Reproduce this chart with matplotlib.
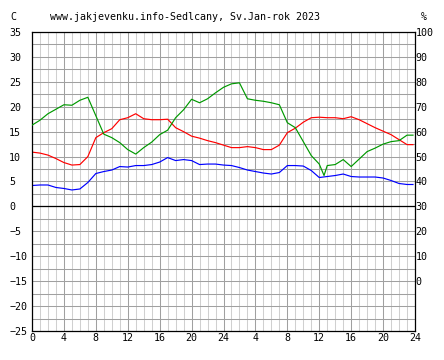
import matplotlib
matplotlib.use("Agg")
import matplotlib.pyplot as plt

# hours since start of the 48 h window
hours = list(range(48)) + [47.75]

temp_c = [10.9, 10.7, 10.3, 9.6, 8.8, 8.3, 8.4, 10.0, 13.8, 14.8,
          15.6, 17.4, 17.8, 18.6, 17.6, 17.4, 17.4, 17.5, 15.8, 15.0,
          14.1, 13.7, 13.2, 12.8, 12.3, 11.8, 11.8, 12.0, 11.8, 11.4,
          11.4, 12.3, 14.8, 15.7, 16.9, 17.8, 17.9, 17.8, 17.8, 17.6,
          18.0, 17.4, 16.6, 15.8, 15.1, 14.4, 13.4, 12.4, 12.4]

dew_c = [4.2, 4.3, 4.3, 3.8, 3.6, 3.3, 3.5, 4.8, 6.6, 7.0,
         7.3, 8.0, 7.9, 8.2, 8.2, 8.4, 8.9, 9.8, 9.2, 9.4,
         9.2, 8.4, 8.5, 8.5, 8.3, 8.2, 7.8, 7.3, 7.0, 6.7,
         6.5, 6.8, 8.2, 8.2, 8.1, 7.2, 5.8, 6.0, 6.2, 6.5,
         6.0, 5.9, 5.9, 5.9, 5.7, 5.2, 4.6, 4.4, 4.4]

hum_hours = sorted(list(range(48)) + [36.6, 47.75])
humidity = [62.6, 64.6, 67.2, 69.0, 70.8, 70.6, 72.6, 73.8, 66.4, 59.0,
            57.6, 55.6, 52.8, 51.0, 53.6, 55.8, 58.8, 60.6, 65.6, 68.8,
            73.0, 71.6, 73.2, 75.6, 77.8, 79.2, 79.6, 73.2, 72.6, 72.2,
            71.6, 70.8, 63.6, 61.6, 56.0, 50.4, 47.0, 42.4, 46.4, 46.8,
            48.8, 46.0, 49.0, 52.0, 53.4, 55.0, 56.0, 56.4, 58.6, 58.6]

x_labels = ["0", "4", "8", "12", "16", "20", "24", "4", "8", "12", "16", "20", "24"]
left_ticks = list(range(-25, 36, 5))
right_ticks = list(range(0, 101, 10))

FONT = "DejaVu Sans Mono"
FS = 7.2
LW = 0.85

fig = plt.figure(figsize=(4.44, 3.60), dpi=100)
ax = fig.add_axes([32 / 444, 29 / 360, 383 / 444, 299 / 360])

ax.set_xlim(0, 48)
ax.set_ylim(-25, 35)
ax.set_xticks(range(0, 49, 4))
ax.set_xticklabels(x_labels, fontsize=FS, family=FONT)
ax.set_xticks(range(49), minor=True)
ax.set_yticks(left_ticks)
ax.set_yticklabels([str(v).replace("-", "\u2212") for v in left_ticks],
                   fontsize=FS, family=FONT, ha="left")
ax.set_yticks([v + 2.5 for v in range(-25, 35, 5)], minor=True)
ax.tick_params(which="both", length=0)
ax.tick_params(axis="y", pad=16.5)
ax.tick_params(axis="x", pad=1.5)

ax.grid(which="minor", axis="x", color="#d0d0d0", linewidth=0.75)
ax.grid(which="major", axis="x", color="#a0a0a0", linewidth=0.75)
ax.grid(which="both", axis="y", color="#a0a0a0", linewidth=0.75)
ax.set_axisbelow(True)
ax.axhline(0, color="black", linewidth=0.9)
for s in ax.spines.values():
    s.set_color("black")
    s.set_linewidth(0.9)

ax.plot(hours, temp_c, color="#ff0000", linewidth=LW)
ax.plot(hours, dew_c, color="#0000ff", linewidth=LW)

ax2 = ax.twinx()
ax2.set_ylim(-20, 100)
ax2.set_yticks(right_ticks)
ax2.set_yticklabels([str(v) for v in right_ticks], fontsize=FS, family=FONT)
ax2.tick_params(length=0, pad=0.5)
for s in ax2.spines.values():
    s.set_visible(False)
ax2.plot(hum_hours, humidity, color="#009900", linewidth=LW)

fig.text(10 / 444, 1 - 17 / 360, "C", fontsize=FS, family=FONT, va="center")
fig.text(50 / 444, 1 - 17 / 360, "www.jakjevenku.info-Sedlcany, Sv.Jan-rok 2023",
         fontsize=FS, family=FONT, va="center")
fig.text(421 / 444, 1 - 17 / 360, "%", fontsize=FS, family=FONT, va="center")

fig.savefig("out.png", dpi=100)
